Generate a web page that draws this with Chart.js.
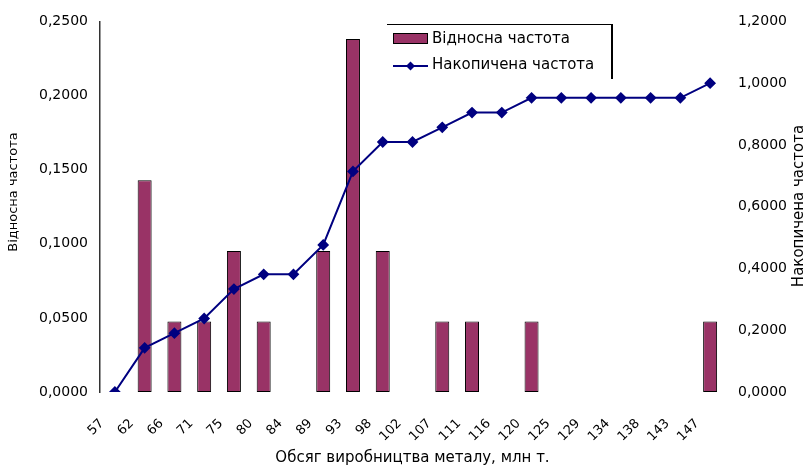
<!DOCTYPE html>
<html>
<head>
<meta charset="utf-8">
<script src="https://cdn.jsdelivr.net/npm/chart.js@4.4.1/dist/chart.umd.min.js"></script>
<style>
  html, body { margin: 0; padding: 0; background: #fff; }
</style>
</head>
<body>
<canvas id="myChart" width="809" height="468"></canvas>
<script>
// categories = обсяг виробництва
var categories = ['57','62','66','71','75','80','84','89','93','98','102','107','111','116','120','125','129','134','138','143','147']
// relative frequency (bars, left axis); null = no bar
var relFreq = [null,0.1429,0.0476,0.0476,0.0952,0.0476,null,0.0952,0.2381,0.0952,null,0.0476,0.0476,null,0.0476,null,null,null,null,null,0.0476]
// cumulative frequency (line, right axis)
var cumFreq = [0,0.1429,0.1905,0.2381,0.3333,0.381,0.381,0.4762,0.7143,0.8095,0.8095,0.8571,0.9048,0.9048,0.9524,0.9524,0.9524,0.9524,0.9524,0.9524,1.0]
var leftTicks = ['0,0000','0,0500','0,1000','0,1500','0,2000','0,2500']
var rightTicks = ['0,0000','0,2000','0,4000','0,6000','0,8000','1,0000','1,2000']
var seriesNames = ['Відносна частота','Накопичена частота']
var xTitle = 'Обсяг виробництва металу, млн т.'
var leftTitle = 'Відносна частота'
var rightTitle = 'Накопичена частота'

var barColor = '#993366'
var lineColor = '#000080'
var FONT = '"DejaVu Sans", Verdana, sans-serif'

// legend box + both y axis titles (Excel style, drawn by hand)
var overlay = {
    id: 'overlay',
    afterDraw: function(chart){
        var ctx = chart.ctx
        ctx.save()
        ctx.strokeStyle = '#000'
        ctx.lineWidth = 1
        ctx.beginPath()
        ctx.moveTo(387, 24.5)
        ctx.lineTo(612, 24.5)
        ctx.stroke()
        ctx.lineWidth = 2
        ctx.beginPath()
        ctx.moveTo(612, 24)
        ctx.lineTo(612, 79)
        ctx.stroke()

        // entry 1: bar
        ctx.fillStyle = barColor
        ctx.fillRect(393.5, 33.5, 34, 10)
        ctx.lineWidth = 1
        ctx.strokeRect(393.5, 33.5, 34, 10)
        // entry 2: line + diamond
        ctx.strokeStyle = lineColor
        ctx.lineWidth = 2
        ctx.beginPath()
        ctx.moveTo(393, 66)
        ctx.lineTo(428, 66)
        ctx.stroke()
        ctx.fillStyle = lineColor
        ctx.beginPath()
        ctx.moveTo(410.5, 61.5)
        ctx.lineTo(415, 66)
        ctx.lineTo(410.5, 70.5)
        ctx.lineTo(406, 66)
        ctx.closePath()
        ctx.fill()

        ctx.fillStyle = '#000'
        ctx.font = '15px ' + FONT
        ctx.textAlign = 'left'
        ctx.textBaseline = 'middle'
        ctx.fillText(seriesNames[0], 432, 39)
        ctx.fillText(seriesNames[1], 432, 65)

        // y axis titles, both read bottom-to-top
        ctx.textAlign = 'center'
        ctx.save()
        ctx.translate(14, 192)
        ctx.rotate(-Math.PI/2)
        ctx.font = '13px ' + FONT
        ctx.fillText(leftTitle, 0, 0)
        ctx.restore()

        ctx.translate(799, 206)
        ctx.rotate(-Math.PI/2)
        ctx.font = '15px ' + FONT
        ctx.fillText(rightTitle, 0, 0)
        ctx.restore()
    }
}

var ctx = document.getElementById('myChart').getContext('2d')
var chart = new Chart(ctx, {
    type: 'bar',
    plugins: [overlay],
    data: {
        labels: categories,
        datasets: [{
            type: 'line',
            label: seriesNames[1],
            data: cumFreq,
            yAxisID: 'y1',
            borderColor: lineColor,
            backgroundColor: lineColor,
            borderWidth: 2,
            pointStyle: 'rectRot',
            pointRadius: 4.5,
            pointBackgroundColor: lineColor,
            pointBorderColor: lineColor,
            tension: 0,
            order: 0
        },{
            type: 'bar',
            label: seriesNames[0],
            data: relFreq,
            yAxisID: 'y',
            backgroundColor: barColor,
            borderColor: '#000',
            borderWidth: 1,
            borderSkipped: false,
            categoryPercentage: 1,
            barPercentage: 0.47,
            order: 1
        }]
    },
    options: {
        responsive: false,
        animation: false,
        layout: {
            padding: { top: 21, bottom: 0, left: 0, right: 0 }
        },
        plugins: {
            legend: { display: false },
            tooltip: { enabled: false }
        },
        scales: {
            x: {
                offset: true,
                grid: { display: false, drawTicks: false },
                border: { display: false },
                ticks: {
                    color: '#000',
                    font: { family: FONT, size: 13 },
                    minRotation: 45,
                    maxRotation: 45,
                    autoSkip: false,
                    padding: 24,
                    labelOffset: -13
                },
                title: {
                    display: true,
                    text: xTitle,
                    color: '#000',
                    font: { family: FONT, size: 15 },
                    padding: { top: 4, bottom: 1 }
                },
                afterFit: function(s){ s.height = 76 }
            },
            y: {
                position: 'left',
                min: 0,
                max: 0.25,
                grid: { display: false, drawTicks: false },
                border: { display: true, color: '#333', width: 1.5 },
                ticks: {
                    stepSize: 0.05,
                    color: '#000',
                    padding: 12,
                    font: { family: FONT, size: 14 },
                    callback: function(v, i){ return leftTicks[i] }
                },
                afterFit: function(s){ s.width = 100 }
            },
            y1: {
                position: 'right',
                min: 0,
                max: 1.2,
                grid: { display: false, drawTicks: false },
                border: { display: false },
                ticks: {
                    stepSize: 0.2,
                    color: '#000',
                    padding: 13,
                    font: { family: FONT, size: 14 },
                    callback: function(v, i){ return rightTicks[i] }
                },
                afterFit: function(s){ s.width = 84 }
            }
        }
    }
})
</script>
</body>
</html>
